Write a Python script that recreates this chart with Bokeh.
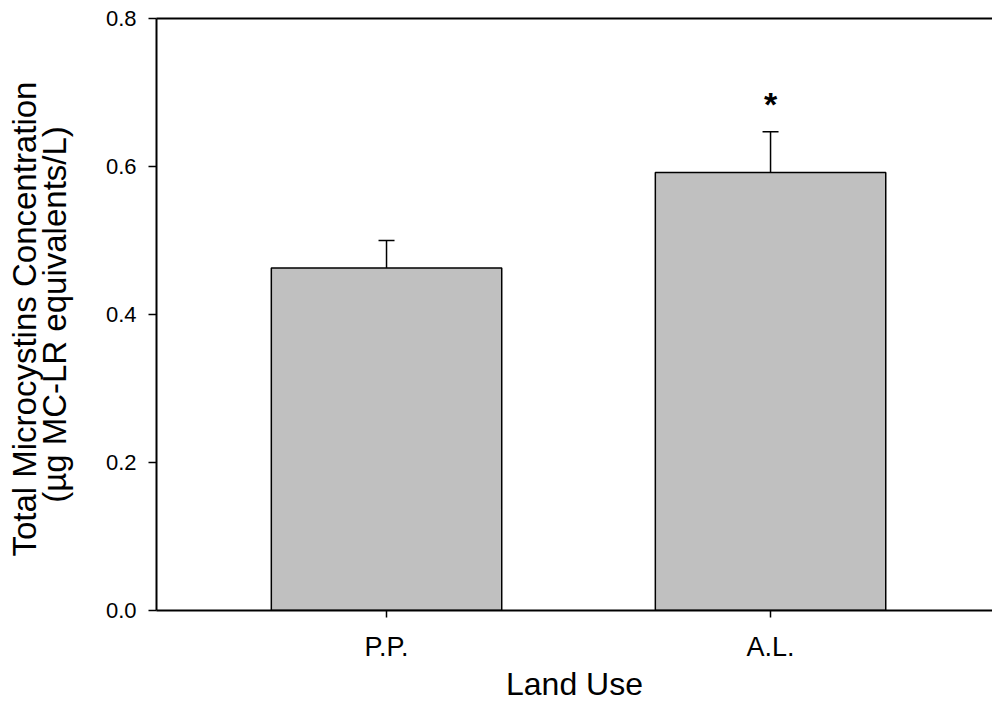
from bokeh.plotting import figure
from bokeh.models import (Range1d, FixedTicker, PrintfTickFormatter, LinearAxis,
                          ColumnDataSource, Whisker, TeeHead)
from bokeh.core.properties import value
from bokeh.embed import file_html
from bokeh.resources import INLINE

# Data
categories = ["P.P.", "A.L."]
positions = [1, 2]
means = [0.463, 0.592]
errors = [0.037, 0.055]
significance = ["", "*"]
y_ticks = [0.0, 0.2, 0.4, 0.6, 0.8]

upper = [m + e for m, e in zip(means, errors)]
src = ColumnDataSource(dict(x=positions, top=means, upper=upper, sig=significance))

FONT = "Liberation Sans"

p = figure(width=992, height=725, output_backend="svg", toolbar_location=None,
           x_range=Range1d(0.401, 2.578), y_range=Range1d(0, 0.8),
           min_border_left=156, min_border_right=0, min_border_top=18,
           min_border_bottom=115)
p.outline_line_color = None
p.grid.visible = False
p.background_fill_color = "white"
p.border_fill_color = "white"

p.vbar(x="x", top="top", bottom=0, width=0.6, source=src,
       fill_color="#c0c0c0", line_color="black", line_width=1.5)

w = Whisker(base="x", lower="top", upper="upper", source=src,
            line_color="black", line_width=1.5,
            upper_head=TeeHead(size=16, line_color="black", line_width=1.5),
            lower_head=None)
p.add_layout(w)

p.text(x="x", y="upper", text="sig", source=src, text_align="center",
       text_baseline="alphabetic", y_offset=-28, text_font=value(FONT),
       text_font_size="34px", text_font_style="bold", text_color="black")

# x axis
xa = p.xaxis[0]
xa.ticker = FixedTicker(ticks=positions)
xa.major_label_overrides = {pos: lab for pos, lab in zip(positions, categories)}
xa.axis_label = "Land Use"
xa.minor_tick_line_color = None
xa.major_tick_in = 0
xa.major_tick_out = 7
xa.major_tick_line_width = 1.5
xa.axis_line_width = 2
xa.major_label_text_font = FONT
xa.major_label_text_font_size = "27px"
xa.major_label_text_color = "black"
xa.major_label_standoff = 14
xa.axis_label_text_font = FONT
xa.axis_label_text_font_size = "32px"
xa.axis_label_text_font_style = "normal"
xa.axis_label_text_color = "black"
xa.axis_label_standoff = 1

# y axis
ya = p.yaxis[0]
ya.ticker = FixedTicker(ticks=y_ticks)
ya.formatter = PrintfTickFormatter(format="%.1f")
ya.axis_label = "Total Microcystins  Concentration\n(µg MC-LR equivalents/L)"
ya.minor_tick_line_color = None
ya.major_tick_in = 0
ya.major_tick_out = 8
ya.major_tick_line_width = 1.5
ya.axis_line_width = 2
ya.major_label_text_font = FONT
ya.major_label_text_font_size = "22px"
ya.major_label_text_color = "black"
ya.major_label_standoff = 12
ya.axis_label_text_font = FONT
ya.axis_label_text_font_size = "33px"
ya.axis_label_text_font_style = "normal"
ya.axis_label_text_color = "black"
ya.axis_label_text_line_height = 0.8
ya.axis_label_standoff = 30

# top line (axis without ticks)
top_axis = LinearAxis(ticker=FixedTicker(ticks=[]), axis_line_width=2,
                      major_tick_line_color=None, minor_tick_line_color=None)
p.add_layout(top_axis, "above")

open("out.html", "w").write(file_html(p, INLINE))
